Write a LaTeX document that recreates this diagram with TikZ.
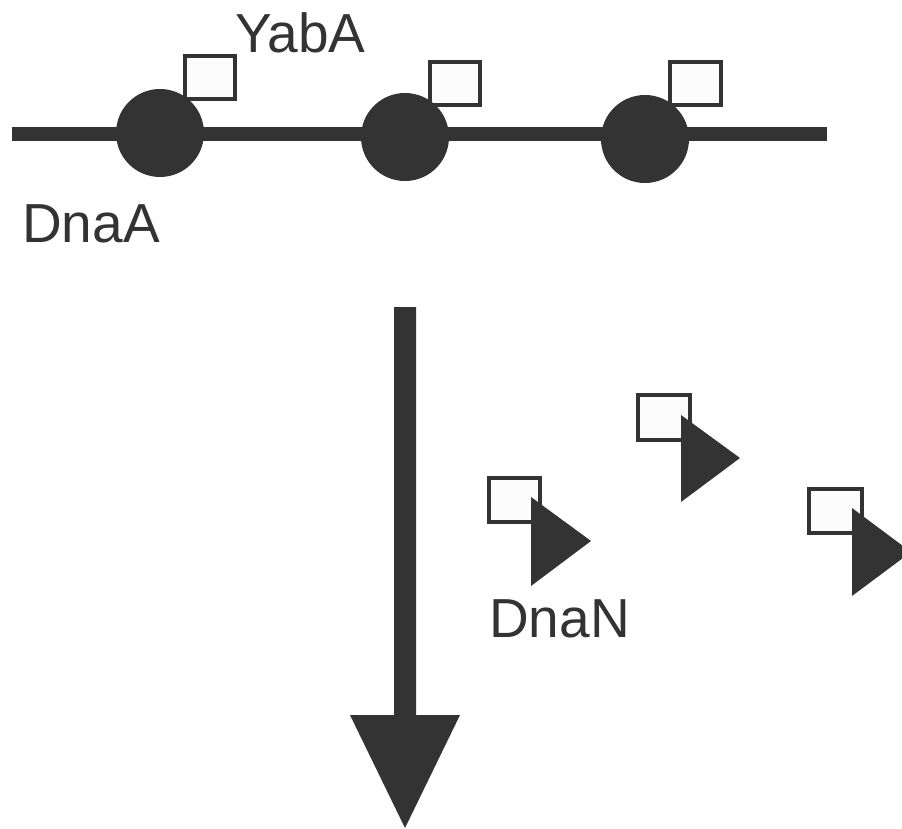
\documentclass[tikz,border=0pt]{standalone}
\usepackage{fontspec}
\setmainfont{Liberation Sans}
\usetikzlibrary{calc}
\definecolor{ink}{HTML}{333333}
\definecolor{paper}{HTML}{FCFCFC}
\begin{document}
\begin{tikzpicture}[x=1pt,y=-1pt,
  label text/.style={anchor=base west,inner sep=0pt,text=ink,font=\fontsize{55}{60}\selectfont},
  bead/.style={fill=ink,draw=none},
  tag/.style={draw=ink,fill=paper,line width=4pt},
  clamp/.style={fill=ink,draw=none}]
\useasboundingbox (0,0) rectangle (902,829);

% DNA strand with DnaA beads, each carrying a YabA square
\fill[ink] (12,127) rectangle (827,141);
\draw[tag] (185,56) rectangle (235,99);
\draw[tag] (430,62) rectangle (480,105);
\draw[tag] (670,62) rectangle (721,105);
\fill[bead] (160,133) circle (44);
\fill[bead] (405,137) circle (44);
\fill[bead] (645,139) circle (44);
\node[label text] (yaba) at (235,53) {YabA};
\node[label text] (dnaa) at (22,242) {DnaA};

% downward transition arrow
\coordinate (atop) at (405,307);
\coordinate (atip) at (405,828);
\fill[ink] ($(atop)+(-11,0)$) -- ($(atop)+(11,0)$) -- (416,715) -- (460,715)
  -- (atip) -- (350,715) -- (394,715) -- cycle;

% released YabA squares with DnaN clamps
\draw[tag] (489,478) rectangle (540,522);
\fill[clamp] (531,497) -- (591,541) -- (531,586) -- cycle;
\draw[tag] (638,395) rectangle (690,440);
\fill[clamp] (681,415) -- (740,458) -- (681,502) -- cycle;
\draw[tag] (809,489) rectangle (862,533);
\fill[clamp] (852,508) -- (911,552) -- (852,596) -- cycle;
\node[label text] (dnan) at (489,637) {DnaN};
\end{tikzpicture}
\end{document}
